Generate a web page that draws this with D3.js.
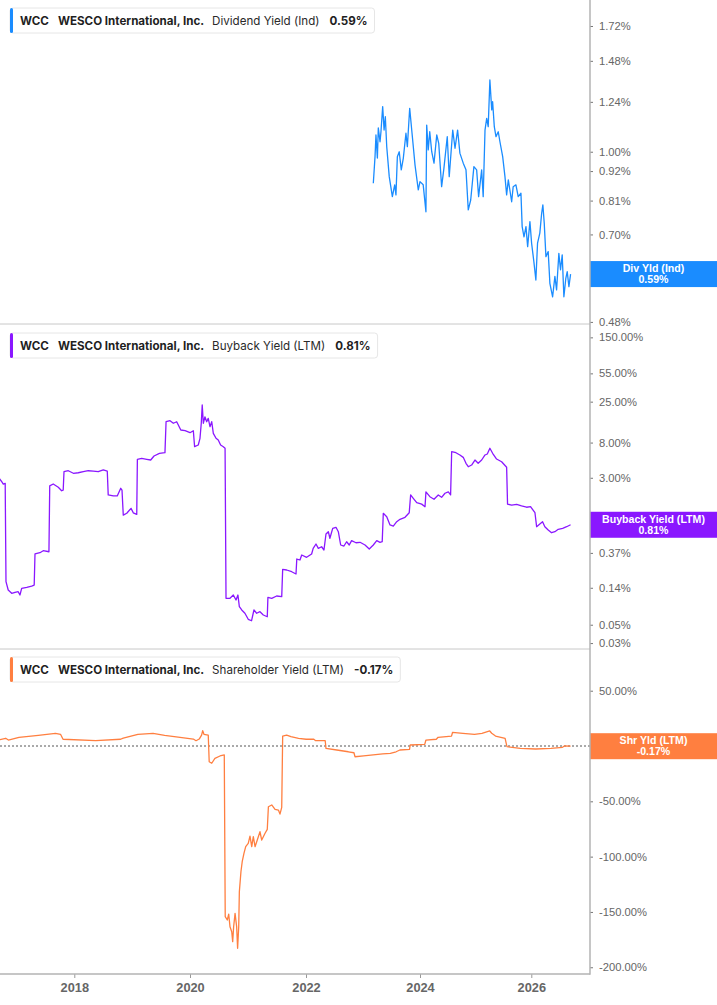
<!DOCTYPE html>
<html>
<head>
<meta charset="utf-8">
<script src="https://cdn.jsdelivr.net/npm/d3@7"></script>
<style>
  body { margin: 0; background: #fff; }
  svg { display: block; }
</style>
</head>
<body>
<svg id="chart" width="717" height="1005"></svg>
<script>
// WCC yields: dividend (ind), buyback (LTM), shareholder (LTM). Values in %.
const ticker = 'WCC';
const company = 'WESCO International, Inc.';
const xTickYears = [2018, 2020, 2022, 2024, 2026];

const divTicks = [1.72, 1.48, 1.24, 1.00, 0.92, 0.81, 0.70, 0.59, 0.48];
const buybackTicks = [150, 55, 25, 8, 3, 0.81, 0.37, 0.14, 0.05, 0.03];
const shareholderTicks = [50, 0, -50, -100, -150, -200];

const divYield = [
  ['2023-03-08', 0.873], ['2023-03-19', 0.979], ['2023-03-25', 1.075], ['2023-04-03', 0.973], ['2023-04-09', 1.108],
  ['2023-04-20', 1.044], ['2023-04-26', 1.090], ['2023-05-07', 1.215], ['2023-05-16', 1.098], ['2023-05-24', 1.163],
  ['2023-06-02', 1.022], ['2023-06-18', 0.898], ['2023-07-08', 0.824], ['2023-07-23', 0.867], ['2023-07-31', 0.830],
  ['2023-08-09', 0.979], ['2023-08-21', 1.000], ['2023-09-03', 0.925], ['2023-09-16', 0.972], ['2023-10-03', 1.083],
  ['2023-10-12', 1.022], ['2023-10-27', 1.206], ['2023-11-11', 1.083], ['2023-11-30', 0.945], ['2023-12-21', 0.848],
  ['2024-01-01', 0.879], ['2024-01-22', 0.867], ['2024-02-09', 0.772], ['2024-02-14', 1.122], ['2024-02-24', 1.008],
  ['2024-03-05', 1.090], ['2024-03-18', 1.000], ['2024-04-02', 0.952], ['2024-04-20', 1.075], ['2024-05-03', 1.037],
  ['2024-05-22', 0.860], ['2024-06-06', 0.931], ['2024-06-28', 1.067], ['2024-07-11', 0.898], ['2024-08-03', 1.098],
  ['2024-08-18', 1.015], ['2024-09-04', 1.098], ['2024-09-19', 0.994], ['2024-10-11', 0.952], ['2024-10-29', 0.925],
  ['2024-11-13', 0.778], ['2024-11-29', 0.812], ['2024-12-20', 0.938], ['2025-01-07', 0.925], ['2025-01-20', 0.824],
  ['2025-02-09', 0.925], ['2025-02-19', 0.824], ['2025-03-03', 1.098], ['2025-03-14', 1.155], ['2025-03-24', 1.114],
  ['2025-04-04', 1.363], ['2025-04-16', 1.198], ['2025-04-22', 1.241], ['2025-05-03', 1.114], ['2025-05-14', 1.067],
  ['2025-05-29', 1.090], ['2025-06-09', 1.044], ['2025-06-27', 0.979], ['2025-07-12', 0.898], ['2025-07-23', 0.830],
  ['2025-08-03', 0.886], ['2025-08-25', 0.806], ['2025-09-04', 0.860], ['2025-09-22', 0.867], ['2025-10-07', 0.824],
  ['2025-10-25', 0.836], ['2025-11-02', 0.724], ['2025-11-14', 0.693], ['2025-11-27', 0.724], ['2025-12-08', 0.664],
  ['2025-12-23', 0.740], ['2026-01-03', 0.674], ['2026-01-18', 0.622], ['2026-01-31', 0.575], ['2026-02-11', 0.674],
  ['2026-02-26', 0.704], ['2026-03-10', 0.767], ['2026-03-18', 0.795], ['2026-03-27', 0.735], ['2026-04-07', 0.636],
  ['2026-04-22', 0.650], ['2026-05-03', 0.567], ['2026-05-21', 0.535], ['2026-06-05', 0.584], ['2026-06-16', 0.551],
  ['2026-07-01', 0.645], ['2026-07-12', 0.601], ['2026-07-23', 0.641], ['2026-08-03', 0.535], ['2026-08-16', 0.580],
  ['2026-08-25', 0.596], ['2026-09-05', 0.559], ['2026-09-16', 0.590],
];

const buybackYield = [
  ['2016-09-10', 3.04], ['2016-09-30', 2.69], ['2016-10-10', 2.52], ['2016-10-22', 2.57], ['2016-10-27', 0.166],
  ['2016-11-10', 0.1315], ['2016-12-02', 0.120], ['2016-12-23', 0.1235], ['2017-01-12', 0.1255], ['2017-01-23', 0.1145],
  ['2017-02-03', 0.138], ['2017-03-07', 0.142], ['2017-04-07', 0.147], ['2017-04-23', 0.151], ['2017-04-28', 0.359],
  ['2017-05-29', 0.372], ['2017-06-19', 0.393], ['2017-07-25', 0.382], ['2017-07-30', 2.39], ['2017-08-21', 2.52],
  ['2017-09-22', 2.30], ['2017-10-13', 2.09], ['2017-10-23', 2.13], ['2017-10-28', 3.55], ['2017-11-24', 3.65],
  ['2017-12-26', 3.40], ['2018-01-26', 3.45], ['2018-02-27', 3.55], ['2018-03-30', 3.65], ['2018-05-01', 3.62],
  ['2018-06-01', 3.55], ['2018-07-03', 3.73], ['2018-07-28', 3.62], ['2018-08-03', 1.86], ['2018-09-04', 1.81],
  ['2018-09-29', 1.81], ['2018-10-21', 2.24], ['2018-10-29', 2.13], ['2018-11-06', 1.06], ['2018-11-28', 1.115],
  ['2018-12-25', 1.28], ['2019-01-08', 1.13], ['2019-01-30', 1.08], ['2019-02-03', 5.02], ['2019-03-02', 5.16],
  ['2019-04-03', 5.02], ['2019-04-28', 4.92], ['2019-05-19', 5.50], ['2019-06-22', 5.93], ['2019-07-27', 6.03],
  ['2019-08-03', 14.3], ['2019-08-28', 14.7], ['2019-09-18', 13.7], ['2019-10-09', 14.3], ['2019-11-04', 11.35],
  ['2019-12-01', 11.13], ['2020-01-01', 10.53], ['2020-01-22', 11.13], ['2020-01-30', 7.13], ['2020-02-22', 7.47],
  ['2020-03-04', 9.01], ['2020-03-12', 13.7], ['2020-03-18', 22.8], ['2020-03-25', 13.7], ['2020-04-04', 16.4],
  ['2020-04-15', 14.3], ['2020-04-25', 15.7], ['2020-05-06', 12.45], ['2020-05-17', 14.3], ['2020-05-27', 10.35],
  ['2020-06-13', 9.01], ['2020-06-27', 8.59], ['2020-07-12', 7.47], ['2020-07-29', 7.13], ['2020-08-09', 6.82],
  ['2020-08-15', 0.1044], ['2020-09-09', 0.1044], ['2020-09-30', 0.1145], ['2020-10-17', 0.0996], ['2020-10-29', 0.1145],
  ['2020-11-07', 0.0826], ['2020-11-22', 0.0754], ['2020-12-12', 0.0688], ['2021-01-02', 0.0582], ['2021-01-23', 0.0559],
  ['2021-02-07', 0.0754], ['2021-02-24', 0.0688], ['2021-03-17', 0.0719], ['2021-04-07', 0.0656], ['2021-05-02', 0.0625],
  ['2021-05-06', 0.1074], ['2021-05-30', 0.1044], ['2021-06-30', 0.1113], ['2021-08-01', 0.1092], ['2021-08-07', 0.234],
  ['2021-09-01', 0.2297], ['2021-10-03', 0.219], ['2021-10-30', 0.2055], ['2021-11-04', 0.312], ['2021-11-24', 0.3035],
  ['2021-12-05', 0.349], ['2022-01-05', 0.327], ['2022-02-06', 0.359], ['2022-02-16', 0.420], ['2022-03-06', 0.474],
  ['2022-03-21', 0.420], ['2022-04-11', 0.439], ['2022-04-26', 0.401], ['2022-05-09', 0.626], ['2022-05-24', 0.668],
  ['2022-06-03', 0.556], ['2022-06-21', 0.734], ['2022-07-12', 0.755], ['2022-07-27', 0.668], ['2022-08-11', 0.461],
  ['2022-09-01', 0.448], ['2022-09-18', 0.505], ['2022-10-05', 0.461], ['2022-10-20', 0.520], ['2022-11-17', 0.491],
  ['2022-12-13', 0.497], ['2023-01-14', 0.461], ['2023-02-10', 0.412], ['2023-03-08', 0.461], ['2023-03-30', 0.520],
  ['2023-04-20', 0.497], ['2023-05-04', 0.505], ['2023-05-11', 1.115], ['2023-06-02', 1.014], ['2023-06-23', 0.805],
  ['2023-07-14', 0.782], ['2023-08-05', 0.882], ['2023-08-26', 0.943], ['2023-09-27', 0.997], ['2023-10-24', 1.133],
  ['2023-11-02', 1.86], ['2023-11-19', 1.69], ['2023-12-11', 1.50], ['2024-01-12', 1.44], ['2024-02-03', 1.34],
  ['2024-02-09', 2.03], ['2024-03-06', 1.77], ['2024-04-02', 1.65], ['2024-04-30', 1.86], ['2024-05-22', 1.74],
  ['2024-06-13', 1.95], ['2024-07-05', 2.03], ['2024-07-20', 1.86], ['2024-07-27', 6.20], ['2024-08-24', 6.03],
  ['2024-09-19', 5.66], ['2024-10-11', 5.30], ['2024-10-29', 4.49], ['2024-11-13', 4.08], ['2024-12-05', 4.28],
  ['2024-12-27', 4.92], ['2025-01-17', 4.49], ['2025-02-09', 4.92], ['2025-03-03', 5.66], ['2025-03-18', 5.82],
  ['2025-04-04', 6.82], ['2025-04-22', 5.93], ['2025-05-18', 5.06], ['2025-06-20', 4.69], ['2025-07-23', 4.02],
  ['2025-07-29', 1.44], ['2025-08-25', 1.40], ['2025-09-27', 1.43], ['2025-10-29', 1.37], ['2025-12-01', 1.32],
  ['2025-12-27', 1.34], ['2026-01-25', 1.133], ['2026-02-05', 0.767], ['2026-02-26', 0.827], ['2026-03-16', 0.882],
  ['2026-03-31', 0.767], ['2026-04-22', 0.700], ['2026-05-14', 0.649], ['2026-06-05', 0.668], ['2026-06-27', 0.714],
  ['2026-07-26', 0.734], ['2026-08-21', 0.767], ['2026-09-16', 0.810],
];

const shareholderYield = [
  ['2016-09-10', 5.4], ['2016-10-25', 7.0], ['2016-11-11', 5.4], ['2017-01-17', 7.9], ['2017-05-19', 9.7],
  ['2017-09-04', 11.5], ['2017-10-06', 10.6], ['2017-10-22', 6.1], ['2018-05-16', 4.8], ['2018-10-20', 6.1],
  ['2018-11-06', 7.2], ['2019-02-06', 10.6], ['2019-05-13', 11.5], ['2019-07-25', 9.7], ['2019-10-30', 7.9],
  ['2020-01-22', 6.3], ['2020-02-08', 4.8], ['2020-02-28', 6.3], ['2020-03-14', 9.9], ['2020-03-21', 13.8],
  ['2020-03-29', 10.6], ['2020-04-25', 9.9], ['2020-05-01', -14.2], ['2020-05-17', -15.6], ['2020-06-06', -11.1],
  ['2020-07-08', -9.0], ['2020-08-04', -8.1], ['2020-08-10', -154.3], ['2020-08-23', -157.3], ['2020-09-01', -151.9],
  ['2020-09-09', -163.4], ['2020-09-20', -167.9], ['2020-09-26', -176.9], ['2020-10-02', -163.4], ['2020-10-11', -151.3],
  ['2020-10-21', -163.4], ['2020-10-27', -182.9], ['2020-11-03', -163.4], ['2020-11-07', -131.7], ['2020-11-17', -113.7],
  ['2020-11-25', -104.6], ['2020-12-06', -97.0], ['2020-12-17', -91.0], ['2021-01-02', -88.0], ['2021-01-13', -81.4],
  ['2021-01-24', -91.0], ['2021-02-03', -82.0], ['2021-02-14', -91.0], ['2021-02-28', -85.0], ['2021-03-17', -77.5],
  ['2021-03-28', -85.0], ['2021-04-18', -78.9], ['2021-05-02', -75.3], ['2021-05-09', -54.9], ['2021-05-30', -53.3],
  ['2021-06-20', -57.2], ['2021-07-11', -57.9], ['2021-07-21', -61.5], ['2021-08-01', -55.4], ['2021-08-07', 9.0],
  ['2021-09-01', 9.9], ['2021-09-28', 8.4], ['2021-11-15', 7.0], ['2022-01-02', 6.1], ['2022-02-20', 6.1],
  ['2022-03-04', 4.8], ['2022-05-04', 4.8], ['2022-05-09', -2.1], ['2022-07-17', -3.6], ['2022-09-29', -5.2],
  ['2022-11-04', -6.1], ['2022-11-11', -9.7], ['2023-01-05', -9.0], ['2023-03-07', -8.1], ['2023-05-07', -7.2],
  ['2023-06-25', -6.6], ['2023-08-01', -5.2], ['2023-08-25', -3.6], ['2023-10-26', -3.0], ['2023-10-30', 0.9],
  ['2024-02-01', 1.5], ['2024-02-09', 5.4], ['2024-04-17', 6.1], ['2024-04-29', 7.9], ['2024-07-26', 9.0],
  ['2024-08-02', 12.4], ['2024-10-09', 11.5], ['2024-12-24', 10.6], ['2025-02-11', 11.5], ['2025-04-03', 13.6],
  ['2025-04-16', 11.5], ['2025-05-11', 9.0], ['2025-07-13', 7.0], ['2025-07-25', -0.6], ['2025-10-21', -2.1],
  ['2026-01-30', -2.7], ['2026-05-10', -2.1], ['2026-07-25', -1.2], ['2026-08-06', 0.0], ['2026-09-16', -0.17],
];

// ---- layout
const AXIS_X = 590, W = 717, BADGE_H = 26;
const AXIS_FONT = '"Liberation Sans", Arial, sans-serif';
const HEAD_FONT = 'Inter, "Noto Sans", sans-serif';
const fmtPct = (v) => d3.format('.2f')(v).replace('\u2212', '-') + '%';
const parse = d3.timeParse('%Y-%m-%d');

const panels = [
  { data: divYield, color: '#1a8cff', top: 0, bottom: 324, log: true, domain: [0.4757, 1.924],
    ticks: divTicks, name: 'Dividend Yield (Ind)', short: 'Div Yld (Ind)', headY: 8 },
  { data: buybackYield, color: '#8a17ff', top: 324, bottom: 649, log: true, domain: [0.02543, 217.6],
    ticks: buybackTicks, name: 'Buyback Yield (LTM)', short: 'Buyback Yield (LTM)', headY: 333 },
  { data: shareholderYield, color: '#ff7f40', top: 649, bottom: 974, log: false, domain: [-206.1, 87.7],
    ticks: shareholderTicks, name: 'Shareholder Yield (LTM)', short: 'Shr Yld (LTM)', headY: 657, zero: true },
];

// the source axis spaces its year ticks slightly unevenly, so use a piecewise time scale
const x = d3.scaleTime()
  .domain(xTickYears.map((y) => new Date(y, 0, 1)))
  .range([74.3, 190, 306, 420, 531.3]);

const svg = d3.select('#chart');
const defs = svg.append('defs');

panels.forEach((p, i) => {
  const y = (p.log ? d3.scaleLog() : d3.scaleLinear()).domain(p.domain).range([p.bottom, p.top]);
  const pts = p.data.map(([d, v]) => ({ date: parse(d), value: v }));
  const last = pts[pts.length - 1];
  const by = y(last.value);

  defs.append('clipPath').attr('id', 'clip' + i)
    .append('rect').attr('x', 0).attr('y', p.top).attr('width', AXIS_X).attr('height', p.bottom - p.top);

  if (p.zero) {
    svg.append('line').attr('x1', 0).attr('x2', AXIS_X).attr('y1', y(0)).attr('y2', y(0))
      .attr('stroke', '#555').attr('stroke-width', 1).attr('stroke-dasharray', '2,2');
  }

  svg.append('path').datum(pts)
    .attr('clip-path', `url(#clip${i})`)
    .attr('fill', 'none').attr('stroke', p.color).attr('stroke-width', 1.3).attr('stroke-linejoin', 'round')
    .attr('d', d3.line().x((d) => x(d.date)).y((d) => y(d.value)));

  // right axis (labels sitting under the value badge are covered in the source, so drop them)
  const ax = svg.append('g').attr('transform', `translate(${AXIS_X},0)`)
    .call(d3.axisRight(y).tickValues(p.ticks).tickFormat(fmtPct).tickSize(3).tickPadding(6));
  ax.select('.domain').remove();
  ax.selectAll('.tick line').attr('stroke', '#777');
  ax.selectAll('.tick text').attr('fill', '#666').attr('font-family', AXIS_FONT).attr('font-size', 11.2)
    .filter((d) => Math.abs(y(d) - by) < BADGE_H / 2 + 2).remove();

  // last value badge
  const badge = svg.append('g');
  badge.append('rect').attr('x', AXIS_X).attr('y', by - BADGE_H / 2).attr('width', W - AXIS_X).attr('height', BADGE_H)
    .attr('fill', p.color);
  badge.selectAll('text').data([p.short, fmtPct(last.value)]).join('text')
    .attr('x', (AXIS_X + W) / 2).attr('y', (d, k) => by - 5.5 + k * 11)
    .attr('dy', '0.35em').attr('text-anchor', 'middle')
    .attr('fill', '#fff').attr('font-family', AXIS_FONT).attr('font-weight', 700).attr('font-size', 10.6)
    .text((d) => d);

  // header legend
  const head = svg.append('g').attr('font-family', HEAD_FONT).attr('font-size', 11.6);
  const box = head.append('rect').attr('x', 10).attr('y', p.headY).attr('height', 25).attr('rx', 3)
    .attr('fill', '#fff').attr('stroke', '#e6e6e6');
  head.append('rect').attr('x', 10).attr('y', p.headY).attr('width', 3).attr('height', 25).attr('rx', 1.5)
    .attr('fill', p.color);
  const parts = [
    { t: ticker, w: 700, c: '#1f1f1f', gap: 9 },
    { t: company, w: 700, c: '#1f1f1f', gap: 8 },
    { t: p.name, w: 400, c: '#2a2a2a', gap: 10 },
    { t: fmtPct(last.value), w: 700, c: '#1f1f1f', gap: 0 },
  ];
  let cx = 20;
  parts.forEach((s) => {
    const t = head.append('text').attr('x', cx).attr('y', p.headY + 17)
      .attr('font-weight', s.w).attr('fill', s.c).text(s.t);
    cx += t.node().getComputedTextLength() + s.gap;
  });
  box.attr('width', cx - 10 + 7);

  if (i < panels.length - 1) {
    svg.append('line').attr('x1', 0).attr('x2', AXIS_X).attr('y1', p.bottom).attr('y2', p.bottom)
      .attr('stroke', '#c8c8c8').attr('stroke-width', 1);
  }
});

// bottom time axis
const xa = svg.append('g').attr('transform', 'translate(0,974)')
  .call(d3.axisBottom(x).tickValues(xTickYears.map((y) => new Date(y, 0, 1)))
    .tickFormat(d3.timeFormat('%Y')).tickSize(4).tickPadding(5));
xa.select('.domain').remove();
xa.selectAll('.tick line').attr('stroke', '#999');
xa.selectAll('.tick text').attr('fill', '#666').attr('font-family', AXIS_FONT)
  .attr('font-weight', 700).attr('font-size', 12.8);

svg.append('line').attr('x1', 0).attr('x2', AXIS_X).attr('y1', 974).attr('y2', 974)
  .attr('stroke', '#b3b3b3').attr('stroke-width', 1.5);
svg.append('line').attr('x1', AXIS_X).attr('x2', AXIS_X).attr('y1', 0).attr('y2', 974.75)
  .attr('stroke', '#b3b3b3').attr('stroke-width', 1.5);
</script>
</body>
</html>
